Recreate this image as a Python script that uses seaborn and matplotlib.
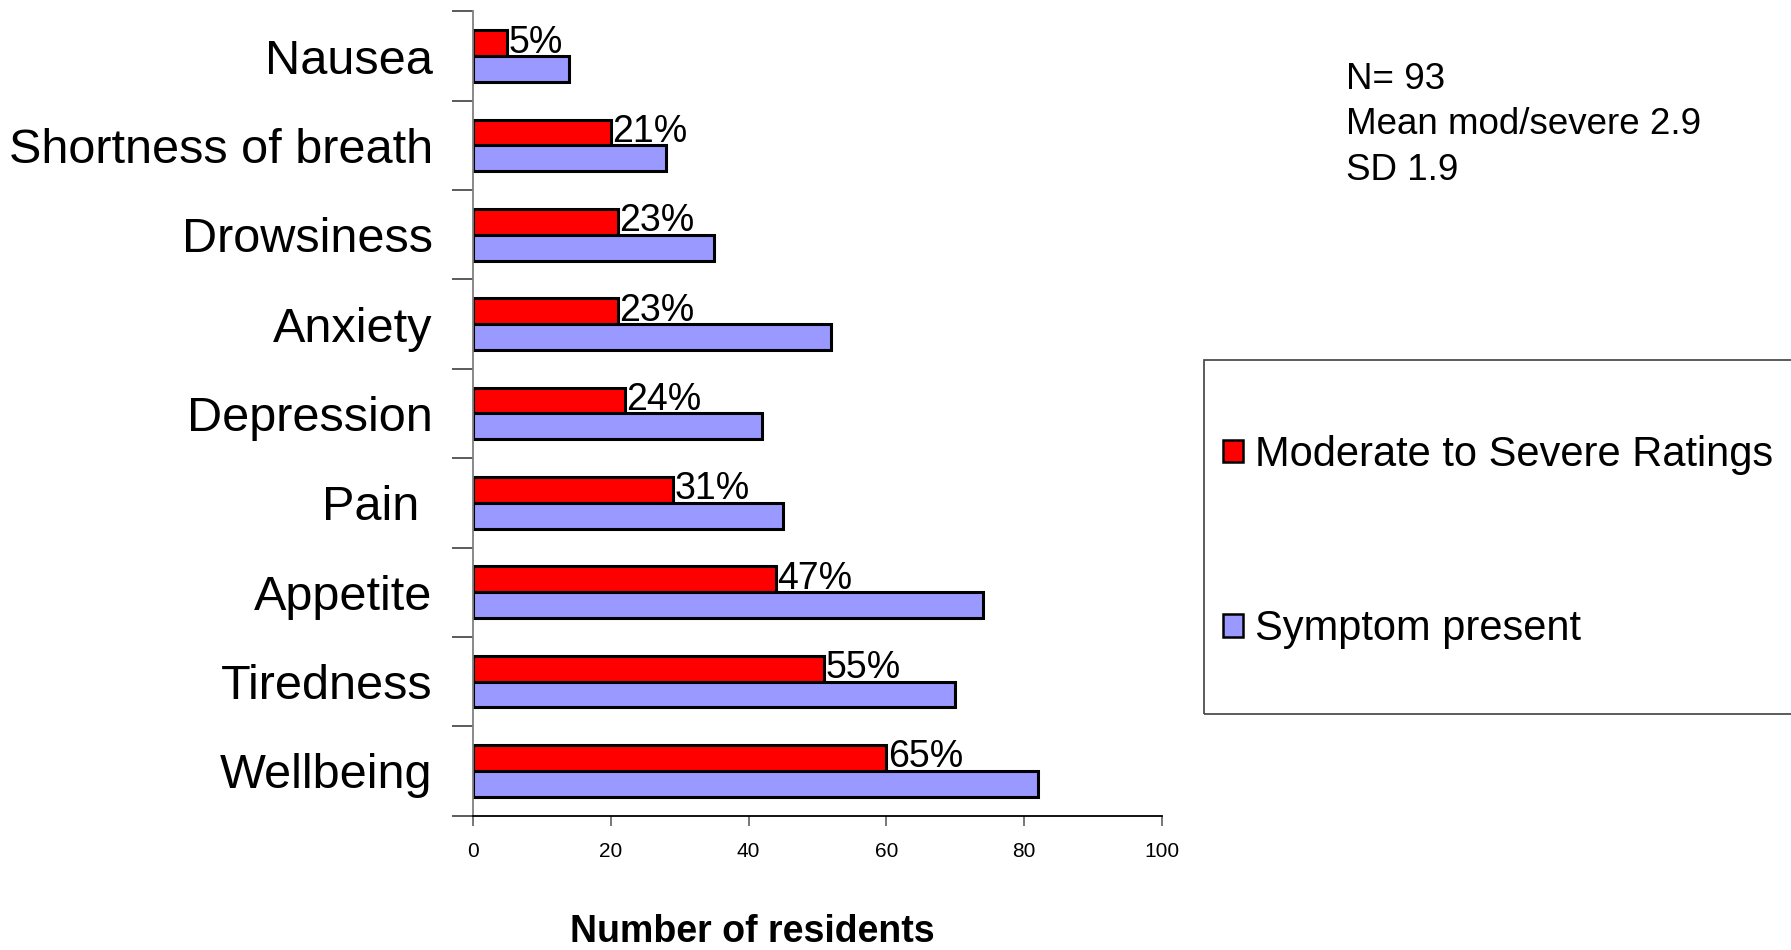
import matplotlib
matplotlib.use("Agg")
import matplotlib.pyplot as plt
from matplotlib.patches import Patch, Rectangle
from matplotlib.ticker import FixedLocator
import numpy as np
import pandas as pd
import seaborn as sns

# Symptom counts among care-home residents (N = 93)
symptoms = ["Nausea", "Shortness of breath", "Drowsiness", "Anxiety", "Depression",
            "Pain ", "Appetite", "Tiredness", "Wellbeing"]
moderate_severe = [5, 20, 21, 21, 22, 29, 44, 51, 60]
symptom_present = [14, 28, 35, 52, 42, 45, 74, 70, 82]
pct_labels = ["5%", "21%", "23%", "23%", "24%", "31%", "47%", "55%", "65%"]
series_names = ["Moderate to Severe Ratings", "Symptom present"]
series_colors = ["#FF0000", "#9999FF"]
x_ticks = [0, 20, 40, 60, 80, 100]
stats_lines = ["N= 93", "Mean mod/severe 2.9", "SD 1.9"]

sns.set_theme(style="white", rc={"text.color": "black", "axes.labelcolor": "black",
                                 "xtick.color": "black", "ytick.color": "black"})
plt.rcParams["font.family"] = ["Liberation Sans", "DejaVu Sans"]

df = pd.DataFrame({
    "symptom": symptoms * 2,
    "count": moderate_severe + symptom_present,
    "series": [series_names[0]] * len(symptoms) + [series_names[1]] * len(symptoms),
})

fig = plt.figure(figsize=(17.91, 9.5), dpi=100)
ax = fig.add_axes([0.2641, 0.1415, 0.3847, 0.8465])

sns.barplot(data=df, y="symptom", x="count", hue="series", hue_order=series_names,
            order=symptoms, palette=series_colors, orient="h", width=0.58,
            edgecolor="black", linewidth=2.2, saturation=1, legend=False, ax=ax)

ax.set_xlim(0, 100)
ax.set_ylim(len(symptoms) - 0.5, -0.5)

# percentage labels next to the red bars
for i, (v, lab) in enumerate(zip(moderate_severe, pct_labels)):
    ax.text(v + 0.2, i - 0.04, lab, ha="left", va="baseline", fontsize=27, color="black")

# axes styling
for side in ["top", "right"]:
    ax.spines[side].set_visible(False)
ax.spines["left"].set_color("#808080")
ax.spines["left"].set_linewidth(1.3)
ax.spines["bottom"].set_color("black")
ax.spines["bottom"].set_linewidth(1.3)

ax.set_xticks(x_ticks)
ax.set_xticklabels([str(t) for t in x_ticks], fontsize=15)
ax.tick_params(axis="x", direction="out", length=7, width=1.2, color="#606060", pad=12,
               bottom=True)
ax.set_yticks(range(len(symptoms)))
ax.set_yticklabels(symptoms, fontsize=35)
ax.tick_params(axis="y", which="major", length=0, pad=29, left=True)
ax.yaxis.set_minor_locator(FixedLocator(np.arange(-0.5, len(symptoms), 1.0)))
ax.tick_params(axis="y", which="minor", direction="out", length=15, width=1.2,
               color="#404040", left=True)
ax.set_ylabel("")
ax.set_xlabel("")
ax.grid(False)

fig.text(0.4203, 0.008, "Number of residents", ha="center", va="baseline",
         fontsize=27, fontweight="bold")

# summary statistics
for k, line in enumerate(stats_lines):
    fig.text(0.7515, 0.916 - k * 0.0475, line, ha="left", va="center", fontsize=26.5)

# legend frame, running off the right edge
fig.patches.append(Rectangle((0.6723, 0.2484), 0.4, 0.3726, transform=fig.transFigure,
                             facecolor="none", edgecolor="#404040", linewidth=1.2))

handles = [Patch(facecolor=c, edgecolor="black", linewidth=1.8) for c in series_colors]
leg = fig.legend(handles, series_names, loc="center left", bbox_to_anchor=(0.6829, 0.4296),
                 fontsize=30, frameon=False, borderpad=0, labelspacing=3.22,
                 handlelength=0.47, handleheight=0.47, handletextpad=0.3,
                 borderaxespad=0)

fig.savefig("out.png", dpi=100, facecolor="white")
